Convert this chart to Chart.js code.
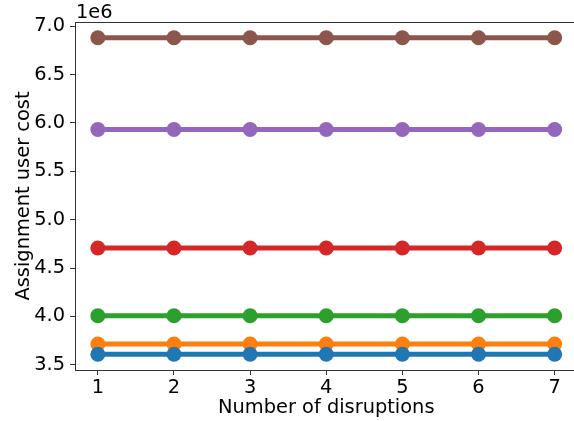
<!DOCTYPE html>
<html><head><meta charset="utf-8">
<script src="https://cdn.jsdelivr.net/npm/chart.js@4/dist/chart.umd.min.js"></script>
<style>html,body{margin:0;padding:0;overflow:hidden;background:#fff}</style>
</head><body>
<canvas id="c" width="585" height="421"></canvas>
<script>
const disruptions = [1, 2, 3, 4, 5, 6, 7];
const seriesBlue   = [3.61e6, 3.61e6, 3.61e6, 3.61e6, 3.61e6, 3.61e6, 3.61e6];
const seriesOrange = [3.715e6, 3.715e6, 3.715e6, 3.715e6, 3.715e6, 3.715e6, 3.715e6];
const seriesGreen  = [4.007e6, 4.007e6, 4.007e6, 4.007e6, 4.007e6, 4.007e6, 4.007e6];
const seriesRed    = [4.707e6, 4.707e6, 4.707e6, 4.707e6, 4.707e6, 4.707e6, 4.707e6];
const seriesPurple = [5.932e6, 5.932e6, 5.932e6, 5.932e6, 5.932e6, 5.932e6, 5.932e6];
const seriesBrown  = [6.88e6, 6.88e6, 6.88e6, 6.88e6, 6.88e6, 6.88e6, 6.88e6];
const yTicks = [3.5e6, 4.0e6, 4.5e6, 5.0e6, 5.5e6, 6.0e6, 6.5e6, 7.0e6];
const xTicks = [1, 2, 3, 4, 5, 6, 7];

const FONT = "'DejaVu Sans', sans-serif";
const FS = 19.4;
function ds(data, color) {
  return {
    data: disruptions.map((x, i) => ({x: x, y: data[i]})),
    borderColor: color, backgroundColor: color,
    borderWidth: 5, pointRadius: 7.5, pointHoverRadius: 7.5,
    pointBorderWidth: 0, tension: 0
  };
}
const axisColor = '#333333';
const topSpine = {
  id: 'topSpine',
  afterDraw(chart) {
    const {ctx, chartArea} = chart;
    ctx.save();
    ctx.strokeStyle = axisColor; ctx.lineWidth = 1;
    ctx.beginPath();
    ctx.moveTo(chartArea.left, chartArea.top + 0.5);
    ctx.lineTo(chartArea.right, chartArea.top + 0.5);
    ctx.stroke();
    ctx.fillStyle = '#000';
    ctx.font = FS + 'px ' + FONT;
    ctx.textBaseline = 'alphabetic';
    ctx.textAlign = 'left';
    ctx.fillText('1e6', chartArea.left + 1, chartArea.top - 4);
    ctx.restore();
  }
};
new Chart(document.getElementById('c'), {
  type: 'line',
  data: { datasets: [
    ds(seriesBlue, '#1f77b4'), ds(seriesOrange, '#ff7f0e'), ds(seriesGreen, '#2ca02c'),
    ds(seriesRed, '#d62728'), ds(seriesPurple, '#9467bd'), ds(seriesBrown, '#8c564b')
  ]},
  options: {
    responsive: false, animation: false,
    layout: { padding: { top: 22, right: 0, left: 0, bottom: 0 } },
    plugins: { legend: { display: false }, tooltip: { enabled: false } },
    scales: {
      x: {
        type: 'linear', min: 0.7, max: 7.3,
        afterBuildTicks: s => { s.ticks = xTicks.map(v => ({value: v})); },
        afterFit: s => { s.height = 51; s.paddingLeft = 0; s.paddingRight = 0; },
        ticks: { color: '#000', font: { family: FONT, size: FS }, padding: 1, maxRotation: 0, callback: v => String(v) },
        grid: { display: true, drawOnChartArea: false, drawTicks: true, tickLength: 5, color: axisColor },
        border: { color: axisColor, width: 1 },
        title: { display: true, text: 'Number of disruptions', color: '#000', font: { family: FONT, size: FS }, padding: { top: 0, bottom: 1 } }
      },
      y: {
        min: 3.4465e6, max: 7.0435e6,
        afterBuildTicks: s => { s.ticks = yTicks.map(v => ({value: v})); },
        afterFit: s => { s.width = 75; s.paddingTop = 0; s.paddingBottom = 0; },
        ticks: { color: '#000', font: { family: FONT, size: FS }, padding: 5, callback: v => (v / 1e6).toFixed(1) },
        grid: { display: true, drawOnChartArea: false, drawTicks: true, tickLength: 5, color: axisColor },
        border: { color: axisColor, width: 1 },
        title: { display: true, text: 'Assignment user cost', color: '#000', font: { family: FONT, size: FS }, padding: { top: 12, bottom: 0 } }
      }
    }
  },
  plugins: [topSpine]
});
</script>
</body></html>
